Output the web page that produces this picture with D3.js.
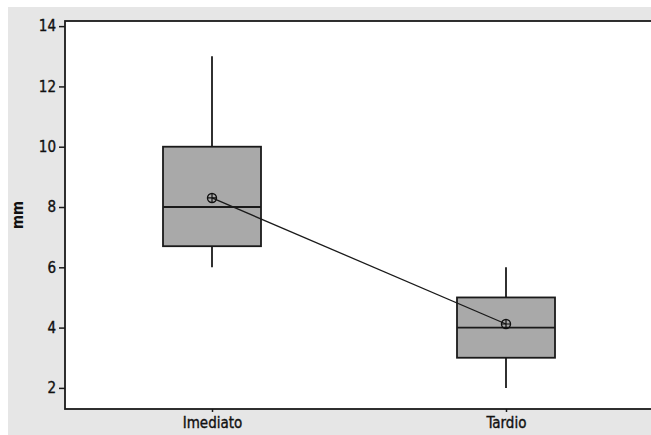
<!DOCTYPE html>
<html>
<head>
<meta charset="utf-8">
<script src="https://cdn.jsdelivr.net/npm/d3@7.9.0/dist/d3.min.js"></script>
<style>
  body { margin: 0; background: #fff; }
  svg { display: block; }
  text { font-family: "DejaVu Sans Condensed", "DejaVu Sans", sans-serif; fill: #111; }
</style>
</head>
<body>
<svg id="chart" width="651" height="435"></svg>
<script>
// data
const groups = ['Imediato', 'Tardio'];
const whiskerLow = [6, 2];
const q1 = [6.7, 3];
const medians = [8, 4];
const q3 = [10, 5];
const whiskerHigh = [13, 6];
const means = [8.3, 4.12];
const yTicks = [2, 4, 6, 8, 10, 12, 14];

const width = 651, height = 435;
const margin = { top: 21, right: -2, bottom: 26, left: 65 };

const svg = d3.select('#chart');

// grey panel behind the plot
svg.append('rect')
  .attr('x', 8).attr('y', 7)
  .attr('width', width - 8).attr('height', height - 7)
  .attr('fill', '#e6e6e6');

const x = d3.scalePoint()
  .domain(groups)
  .range([margin.left, width - margin.right])
  .padding(0.5);

const y = d3.scaleLinear()
  .domain([1.3, 14.17])
  .range([height - margin.bottom, margin.top]);

// white plot area
svg.append('rect')
  .attr('x', margin.left).attr('y', margin.top)
  .attr('width', width - margin.right - margin.left)
  .attr('height', height - margin.bottom - margin.top)
  .attr('fill', '#fff')
  .attr('stroke', '#1a1a1a')
  .attr('stroke-width', 1.8);

const boxW = 98;

const boxes = svg.append('g').selectAll('g')
  .data(groups)
  .join('g');

// whiskers
boxes.append('line')
  .attr('x1', d => x(d)).attr('x2', d => x(d))
  .attr('y1', (d, i) => y(whiskerLow[i]))
  .attr('y2', (d, i) => y(whiskerHigh[i]))
  .attr('stroke', '#1a1a1a')
  .attr('stroke-width', 1.8);

// box
boxes.append('rect')
  .attr('x', d => x(d) - boxW / 2)
  .attr('width', boxW)
  .attr('y', (d, i) => y(q3[i]))
  .attr('height', (d, i) => y(q1[i]) - y(q3[i]))
  .attr('fill', '#a9a9a9')
  .attr('stroke', '#1a1a1a')
  .attr('stroke-width', 1.8);

// median
boxes.append('line')
  .attr('x1', d => x(d) - boxW / 2).attr('x2', d => x(d) + boxW / 2)
  .attr('y1', (d, i) => y(medians[i]))
  .attr('y2', (d, i) => y(medians[i]))
  .attr('stroke', '#1a1a1a')
  .attr('stroke-width', 1.8);

// line joining the means
svg.append('path')
  .datum(groups)
  .attr('d', d3.line().x(d => x(d)).y((d, i) => y(means[i])))
  .attr('fill', 'none')
  .attr('stroke', '#1a1a1a')
  .attr('stroke-width', 1.3);

// mean symbol: circle with a cross
const r = 4.5;
const meanG = svg.append('g').selectAll('g')
  .data(groups)
  .join('g')
  .attr('transform', (d, i) => `translate(${x(d)},${y(means[i])})`);
meanG.append('circle').attr('r', r)
  .attr('fill', 'none').attr('stroke', '#111').attr('stroke-width', 1.4);
meanG.append('path').attr('d', `M${-r},0H${r}M0,${-r}V${r}`)
  .attr('stroke', '#111').attr('stroke-width', 1.2);

const fontFam = '"DejaVu Sans Condensed", "DejaVu Sans", sans-serif';

// axes
const yAxis = svg.append('g')
  .attr('transform', `translate(${margin.left},0)`)
  .call(d3.axisLeft(y).tickValues(yTicks).tickSize(6).tickPadding(3));
yAxis.select('.domain').remove();
yAxis.selectAll('line').attr('stroke', '#1a1a1a').attr('stroke-width', 1.5);
yAxis.selectAll('text')
  .attr('font-size', 15).style('font-family', fontFam)
  .attr('fill', '#111').attr('stroke', '#111').attr('stroke-width', 0.35);

const xAxis = svg.append('g')
  .attr('transform', `translate(0,${height - margin.bottom})`)
  .call(d3.axisBottom(x).tickSize(3).tickPadding(5));
xAxis.select('.domain').remove();
xAxis.selectAll('line').attr('stroke', '#1a1a1a').attr('stroke-width', 1.5);
xAxis.selectAll('text')
  .attr('font-size', 15).style('font-family', fontFam)
  .attr('fill', '#111').attr('stroke', '#111').attr('stroke-width', 0.35);

// y label
svg.append('text')
  .attr('transform', `translate(23,${(margin.top + height - margin.bottom) / 2}) rotate(-90)`)
  .attr('text-anchor', 'middle')
  .attr('font-size', 15)
  .attr('font-weight', 'bold')
  .text('mm');
</script>
</body>
</html>
